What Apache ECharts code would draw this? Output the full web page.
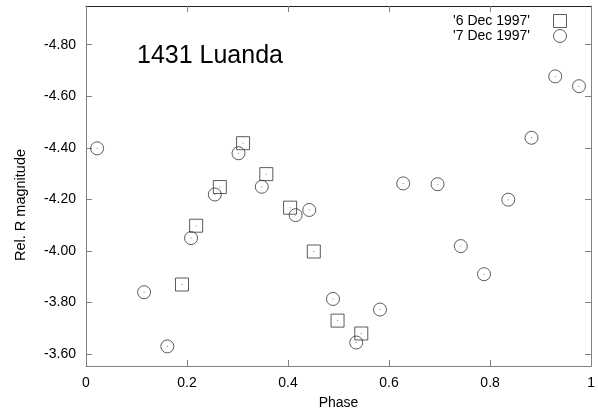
<!DOCTYPE html>
<html>
<head>
<meta charset="utf-8">
<script src="https://cdn.jsdelivr.net/npm/echarts@6/dist/echarts.min.js"></script>
<style>html,body{margin:0;padding:0;background:#fff}#c{width:598px;height:415px}</style>
</head>
<body>
<div id="c"></div>
<script>
const titleText = '1431 Luanda';
const yAxisTitle = 'Rel. R magnitude';
const xAxisTitle = 'Phase';
const seriesNames = ["'6 Dec 1997'", "'7 Dec 1997'"];
const dec6Phase = [0.190, 0.218, 0.265, 0.311, 0.357, 0.404, 0.451, 0.498, 0.545];
const dec6Mag = [-3.870, -4.098, -4.248, -4.418, -4.298, -4.168, -3.998, -3.730, -3.680];
const dec7Phase = [0.022, 0.115, 0.161, 0.208, 0.255, 0.302, 0.348, 0.415, 0.442, 0.489, 0.535, 0.582, 0.628, 0.696, 0.742, 0.788, 0.836, 0.882, 0.929, 0.976];
const dec7Mag = [-4.398, -3.840, -3.630, -4.050, -4.219, -4.379, -4.249, -4.139, -4.159, -3.814, -3.645, -3.773, -4.262, -4.259, -4.019, -3.910, -4.199, -4.439, -4.677, -4.639];
const yTicks = [-4.8, -4.6, -4.4, -4.2, -4.0, -3.8, -3.6];

const font = 'Liberation Sans, Arial, Helvetica, sans-serif';
const axisGray = '#808080';
const zip = (a, b) => a.map((v, i) => [v, b[i]]);
const d6 = zip(dec6Phase, dec6Mag);
const d7 = zip(dec7Phase, dec7Mag);
const markStyle = {color: 'rgba(0,0,0,0)', borderColor: '#333', borderWidth: 1};
const squarePath = 'path://M0,0L10,0L10,10L0,10Z';

const chart = echarts.init(document.getElementById('c'), null, {renderer: 'canvas'});
chart.setOption({
  animation: false,
  backgroundColor: '#fff',
  textStyle: {fontFamily: font},
  title: {
    text: titleText, left: 137, top: 44, padding: 0,
    textStyle: {fontFamily: font, fontSize: 25, fontWeight: 'normal', color: '#000'}
  },
  graphic: [{
    type: 'text', x: 21, y: 205, rotation: Math.PI / 2,
    style: {text: yAxisTitle, fontFamily: font, fontSize: 14.5, fill: '#000',
      align: 'center', verticalAlign: 'middle'}
  }],
  legend: {
    orient: 'vertical', right: 31, top: 14, align: 'right',
    itemWidth: 50, itemHeight: 13, itemGap: 1, padding: 0,
    symbolKeepAspect: true,
    data: [
      {name: seriesNames[0], icon: squarePath},
      {name: seriesNames[1], icon: 'circle'}
    ],
    textStyle: {fontFamily: font, fontSize: 14, color: '#000'},
    itemStyle: markStyle
  },
  grid: {left: 86, right: 1, top: 6, bottom: 48, containLabel: false},
  xAxis: [{
    type: 'value', min: 0, max: 1, interval: 0.2,
    name: xAxisTitle, nameLocation: 'middle', nameGap: 30,
    nameTextStyle: {fontFamily: font, fontSize: 14, color: '#000'},
    axisLine: {show: true, onZero: false, lineStyle: {color: axisGray, width: 1}},
    axisTick: {show: true, inside: true, length: 6, lineStyle: {color: axisGray}},
    axisLabel: {fontFamily: font, fontSize: 14, color: '#000', margin: 10,
      formatter: v => String(+v.toFixed(1))},
    splitLine: {show: false}
  }, {
    type: 'value', position: 'top', min: 0, max: 1, interval: 0.2,
    axisLine: {show: true, onZero: false, lineStyle: {color: '#222', width: 1}},
    axisTick: {show: true, inside: true, length: 6, lineStyle: {color: axisGray}},
    axisLabel: {show: false}, splitLine: {show: false}
  }],
  yAxis: [{
    type: 'value', inverse: true, min: -4.95, max: -3.554,
    axisLine: {show: true, onZero: false, lineStyle: {color: axisGray, width: 1}},
    axisTick: {show: true, inside: true, length: 6, customValues: yTicks, lineStyle: {color: axisGray}},
    axisLabel: {fontFamily: font, fontSize: 14, color: '#000', margin: 10, customValues: yTicks,
      formatter: v => v.toFixed(2)},
    splitLine: {show: false}
  }, {
    type: 'value', position: 'right', inverse: true, min: -4.95, max: -3.554,
    axisLine: {show: true, onZero: false, lineStyle: {color: axisGray, width: 1}},
    axisTick: {show: true, inside: true, length: 6, customValues: yTicks, lineStyle: {color: axisGray}},
    axisLabel: {show: false}, splitLine: {show: false}
  }],
  series: [
    {name: seriesNames[0], type: 'scatter', symbol: 'rect', symbolSize: 13, data: d6,
     itemStyle: markStyle, emphasis: {disabled: true}, z: 3},
    {name: seriesNames[1], type: 'scatter', symbol: 'circle', symbolSize: 13, data: d7,
     itemStyle: markStyle, emphasis: {disabled: true}, z: 3},
    {name: 'dots6', type: 'scatter', symbol: 'rect', symbolSize: 1, data: d6,
     itemStyle: {color: '#666'}, emphasis: {disabled: true}, z: 4},
    {name: 'dots7', type: 'scatter', symbol: 'rect', symbolSize: 1, data: d7,
     itemStyle: {color: '#666'}, emphasis: {disabled: true}, z: 4}
  ]
});
</script>
</body>
</html>
